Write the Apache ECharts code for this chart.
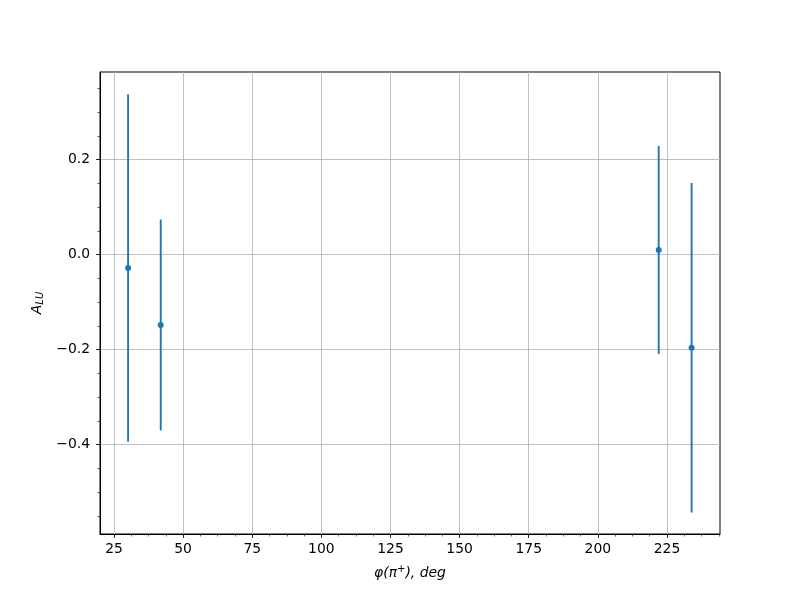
<!DOCTYPE html>
<html>
<head>
<meta charset="utf-8">
<script src="https://cdn.jsdelivr.net/npm/echarts@6/dist/echarts.min.js"></script>
<style>html,body{margin:0;padding:0;background:#fff}#c{width:800px;height:600px}</style>
</head>
<body>
<div id="c"></div>
<script>
// Data
const phi = [30.1, 41.9, 222.0, 233.9];
const alu = [-0.028, -0.148, 0.010, -0.196];
const err = [0.366, 0.222, 0.219, 0.347];

// Tick positions
const xTicks = [25, 50, 75, 100, 125, 150, 175, 200, 225];
const yTicks = [-0.4, -0.2, 0.0, 0.2];
const xMinorTicks = [25, 31.25, 37.5, 43.75, 50, 56.25, 62.5, 68.75, 75, 81.25, 87.5, 93.75, 100, 106.25, 112.5, 118.75, 125, 131.25, 137.5, 143.75, 150, 156.25, 162.5, 168.75, 175, 181.25, 187.5, 193.75, 200, 206.25, 212.5, 218.75, 225, 231.25, 237.5, 243.75];
const yMinorTicks = [-0.55, -0.5, -0.45, -0.4, -0.35, -0.3, -0.25, -0.2, -0.15, -0.1, -0.05, 0.0, 0.05, 0.1, 0.15, 0.2, 0.25, 0.3, 0.35];

const xMin = 19.94, xMax = 244.17;
const yMin = -0.588, yMax = 0.3846;

const chart = echarts.init(document.getElementById('c'), null, {renderer: 'canvas'});
const font = 'DejaVu Sans';

const points = phi.map((x,i)=>[x, alu[i]]);
const bars = phi.map((x,i)=>[x, alu[i]-err[i], alu[i]+err[i]]);

chart.setOption({
  animation: false,
  backgroundColor: '#fff',
  grid: {left: 100, right: 80, top: 72, bottom: 66, show: true, borderColor: '#000', borderWidth: 1, backgroundColor: 'transparent'},
  xAxis: [{
    type: 'value', min: xMin, max: xMax, position: 'bottom',
    axisLine: {show: true, onZero: false, lineStyle: {color: '#000', width: 1}},
    axisTick: {show: true, length: 4, customValues: xTicks, lineStyle: {color: '#000', width: 0.8}},
    axisLabel: {show: true, color: '#000', fontFamily: font, fontSize: 13.9, margin: 8, customValues: xTicks,
      formatter: v => String(Math.round(v))},
    splitLine: {show: true, lineStyle: {color: '#b0b0b0', width: 0.8}},
    name: '{m|φ(π}{s|+}{m|), deg}', nameLocation: 'middle', nameGap: 30,
    nameTextStyle: {rich: {
      m: {fontFamily: font, fontStyle: 'italic', fontSize: 13.9, color: '#000'},
      s: {fontFamily: font, fontStyle: 'italic', fontSize: 10, color: '#000', padding: [0,0,8,0]}
    }}
  },{
    type: 'value', min: xMin, max: xMax, position: 'bottom',
    axisLine: {show: false, onZero: false},
    axisTick: {show: true, length: 2.5, customValues: xMinorTicks, lineStyle: {color: '#000', width: 0.6}},
    axisLabel: {show: false}, splitLine: {show: false}
  }],
  yAxis: [{
    type: 'value', min: yMin, max: yMax, position: 'left',
    axisLine: {show: true, onZero: false, lineStyle: {color: '#000', width: 1}},
    axisTick: {show: true, length: 4, customValues: yTicks, lineStyle: {color: '#000', width: 0.8}},
    axisLabel: {show: true, color: '#000', fontFamily: font, fontSize: 13.9, margin: 10, customValues: yTicks,
      formatter: v => (v < -1e-9 ? '\u2212' : '') + Math.abs(v).toFixed(1)},
    splitLine: {show: true, lineStyle: {color: '#b0b0b0', width: 0.8}},
    name: '{m|A}{s|LU}', nameLocation: 'middle', nameGap: 52, nameRotate: 90,
    nameTextStyle: {rich: {
      m: {fontFamily: font, fontStyle: 'italic', fontSize: 13.9, color: '#000'},
      s: {fontFamily: font, fontStyle: 'italic', fontSize: 10, color: '#000', padding: [6,0,0,0]}
    }}
  },{
    type: 'value', min: yMin, max: yMax, position: 'left',
    axisLine: {show: false, onZero: false},
    axisTick: {show: true, length: 2.5, customValues: yMinorTicks, lineStyle: {color: '#000', width: 0.6}},
    axisLabel: {show: false}, splitLine: {show: false}
  }],
  series: [{
    type: 'custom', xAxisIndex: 0, yAxisIndex: 0, data: bars, clip: true,
    renderItem: function(params, api){
      const x = api.value(0);
      const p1 = api.coord([x, api.value(1)]);
      const p2 = api.coord([x, api.value(2)]);
      return {type: 'line', shape: {x1: p1[0], y1: p1[1], x2: p2[0], y2: p2[1]},
        style: {stroke: '#1f77b4', lineWidth: 1.9}};
    }
  },{
    type: 'scatter', xAxisIndex: 0, yAxisIndex: 0, data: points,
    symbol: 'circle', symbolSize: 6,
    itemStyle: {color: '#1f77b4', opacity: 1}
  }]
});
</script>
</body>
</html>
